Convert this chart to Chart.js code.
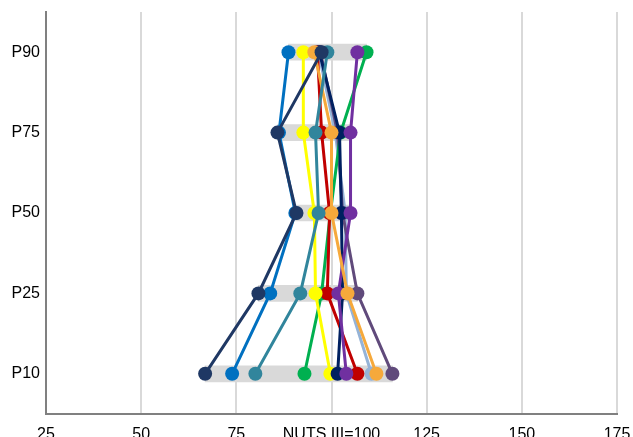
<!DOCTYPE html>
<html lang="en">
<head>
<meta charset="UTF-8">
<title>Percentiles NUTS III</title>
<script src="https://cdn.jsdelivr.net/npm/chart.js"></script>
<style>
  body { margin: 0; overflow: hidden; background: #fff; }
  #wrap { width: 633px; height: 437px; }
</style>
</head>
<body>
<div id="wrap"><canvas id="myChart"></canvas></div>
<script>
// percentiles (top to bottom)
const labels = ['P90', 'P75', 'P50', 'P25', 'P10'];
const xTicks = [25, 50, 75, 100, 125, 150, 175];

// one array per region, index = percentile above
const navyA  = [97.4, 85.8, 90.8, 80.8, 66.8];
const blue   = [88.7, 86.2, 90.5, 83.9, 73.9];
const teal   = [98.9, 95.8, 96.6, 91.8, 80.0];
const yellow = [92.6, 92.6, 95.5, 95.8, 99.7];
const green  = [109.2, 102.4, 99.7, 97.4, 92.9];
const red    = [96.3, 97.4, 99.5, 98.9, 106.8];
const orange = [95.5, 100.0, 100.0, 104.2, 111.8];
const ltBlue = [96.6, 101.0, 103.6, 103.9, 110.5];
const navyB  = [96.8, 102.1, 102.6, 102.9, 101.6];
const purple = [106.8, 105.0, 105.0, 101.8, 103.9];
const plum   = [97.1, 101.6, 102.9, 106.8, 116.0];

// first one ends up on top
const series = [
  { data: navyA,  color: '#1F3864' },
  { data: teal,   color: '#31859C' },
  { data: orange, color: '#F6A93B' },
  { data: purple, color: '#7030A0' },
  { data: navyB,  color: '#002060' },
  { data: yellow, color: '#FFFF00' },
  { data: blue,   color: '#0070C0' },
  { data: red,    color: '#C00000' },
  { data: green,  color: '#00B050' },
  { data: plum,   color: '#604A7B' },
  { data: ltBlue, color: '#95B3D7' }
];

// grey band = min..max of every row
const band = labels.map((l, i) => {
  const vals = series.map(s => s.data[i]);
  return [Math.min(...vals), Math.max(...vals)];
});

const datasets = series.map(s => ({
  type: 'line',
  data: s.data,
  borderColor: s.color,
  backgroundColor: s.color,
  borderWidth: 3,
  pointRadius: 7,
  pointBorderWidth: 0,
  pointBackgroundColor: s.color,
  tension: 0,
  order: 0
}));
datasets.push({
  type: 'bar',
  data: band,
  backgroundColor: '#D9D9D9',
  barThickness: 16,
  borderSkipped: false,
  order: 1
});

const font = { family: '"Liberation Sans", Arial, sans-serif', size: 16 };

new Chart(document.querySelector('#myChart'), {
  data: { labels: labels, datasets: datasets },
  options: {
    indexAxis: 'y',
    responsive: true,
    maintainAspectRatio: false,
    animation: false,
    layout: { padding: { top: 12, right: 16, left: 0, bottom: 0 } },
    plugins: { legend: { display: false }, tooltip: { enabled: false } },
    scales: {
      x: {
        type: 'linear',
        min: 25,
        max: 175,
        afterBuildTicks: a => { a.ticks = xTicks.map(v => ({ value: v })); },
        afterFit: a => { a.height = 23; a.paddingLeft = 0; a.paddingRight = 0; },
        grid: { color: '#D9D9D9', lineWidth: 2, drawTicks: false },
        border: { color: '#808080', width: 2 },
        ticks: {
          padding: 11,
          autoSkip: false,
          maxRotation: 0,
          color: '#000',
          font: font,
          callback: v => v === 100 ? 'NUTS III=100' : v
        }
      },
      y: {
        type: 'category',
        offset: true,
        afterFit: a => { a.width = 46; a.paddingTop = 0; a.paddingBottom = 0; },
        grid: { display: false, drawTicks: false },
        border: { color: '#808080', width: 2 },
        ticks: { padding: 6, color: '#000', font: font }
      }
    }
  }
});
</script>
</body>
</html>
